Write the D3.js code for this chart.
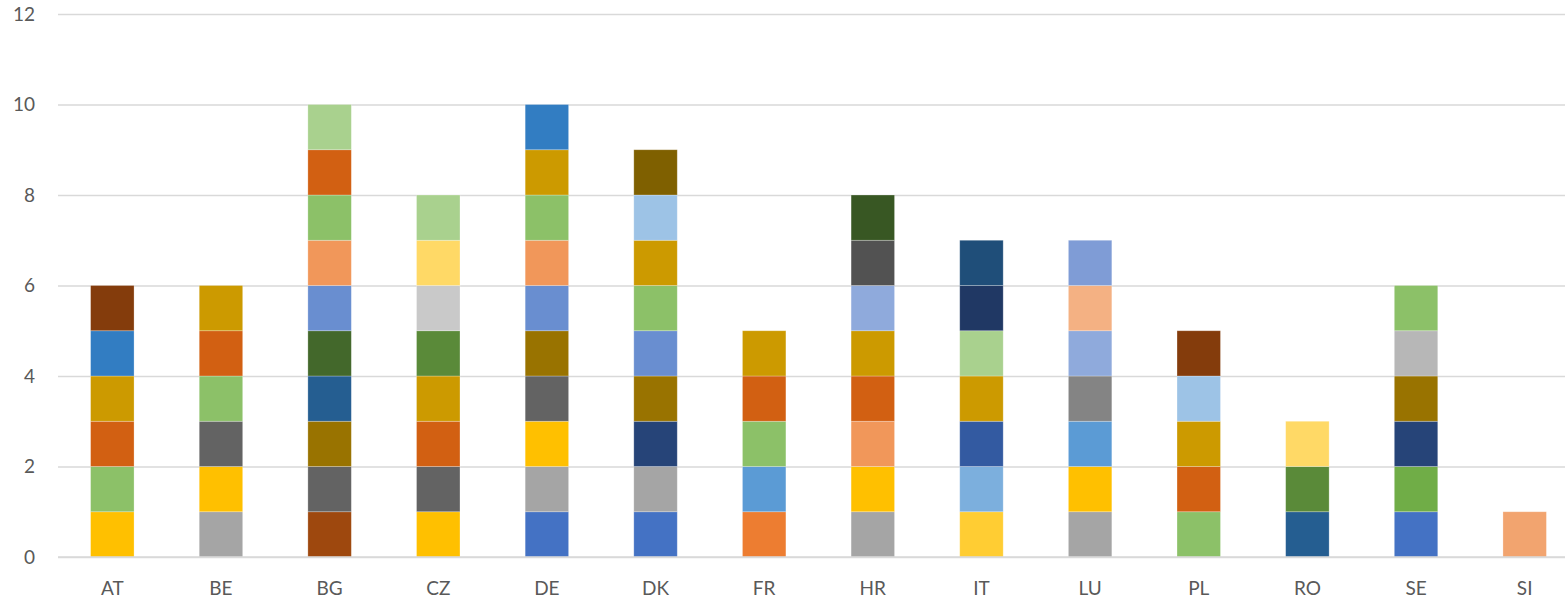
<!DOCTYPE html>
<html>
<head>
<meta charset="utf-8">
<script src="https://cdn.jsdelivr.net/npm/d3@7"></script>
<style>
  html, body { margin: 0; padding: 0; background: #fff; }
  svg { display: block; }
  text { font-family: Lato, "Liberation Sans", sans-serif; fill: #595959; }
</style>
</head>
<body>
<svg id="chart" width="1565" height="603"></svg>
<script>
// Countries along the x axis
const categories = ["AT", "BE", "BG", "CZ", "DE", "DK", "FR", "HR", "IT", "LU", "PL", "RO", "SE", "SI"];

// One colour per series, in stacking order (series 1 at the bottom)
const seriesColors = [
  "#4472C4", "#ED7D31", "#A5A5A5", "#FFC000", "#5B9BD5", "#70AD47",
  "#264478", "#9E480E", "#636363", "#997300", "#255E91", "#43682B",
  "#698ED0", "#F1975A", "#B7B7B7", "#FFCD33", "#7CAFDD", "#8CC168",
  "#335AA1", "#D26012", "#848484", "#CC9A00", "#327DC2", "#5A8A39",
  "#8FAADC", "#F4B183", "#C9C9C9", "#FFD966", "#9DC3E6", "#A9D18E",
  "#203864", "#843C0C", "#525252", "#7F6000", "#1F4E79", "#385723",
  "#7F9CD6", "#F2A46F"
];
const seriesNames = seriesColors.map((_, i) => "S" + (i + 1));

// Series (1-based) that each country counts once
const AT = [4, 18, 20, 22, 23, 32];
const BE = [3, 4, 9, 18, 20, 22];
const BG = [8, 9, 10, 11, 12, 13, 14, 18, 20, 30];
const CZ = [4, 9, 20, 22, 24, 27, 28, 30];
const DE = [1, 3, 4, 9, 10, 13, 14, 18, 22, 23];
const DK = [1, 3, 7, 10, 13, 18, 22, 29, 34];
const FR = [2, 5, 18, 20, 22];
const HR = [3, 4, 14, 20, 22, 25, 33, 36];
const IT = [16, 17, 19, 22, 30, 31, 35];
const LU = [3, 4, 5, 21, 25, 26, 37];
const PL = [18, 20, 22, 29, 32];
const RO = [11, 24, 28];
const SE = [1, 6, 7, 10, 15, 18];
const SI = [38];

const membership = [AT, BE, BG, CZ, DE, DK, FR, HR, IT, LU, PL, RO, SE, SI];

// y-axis ticks
const yTicks = [0, 2, 4, 6, 8, 10, 12];

// Build a row per country with a 0/1 value per series
const table = categories.map((c, i) => {
  const row = { country: c };
  seriesNames.forEach((s, j) => { row[s] = membership[i].includes(j + 1) ? 1 : 0; });
  return row;
});

const svg = d3.select("#chart");
const plot = { left: 58, right: 1579, top: 14, bottom: 557 };

const x = d3.scaleBand()
  .domain(categories)
  .range([plot.left, plot.right])
  .paddingInner(0.6)
  .paddingOuter(0.3);

const y = d3.scaleLinear()
  .domain([0, 12])
  .range([plot.bottom, plot.top]);

const color = d3.scaleOrdinal().domain(seriesNames).range(seriesColors);

// Gridlines and y labels
const yAxis = d3.axisLeft(y)
  .tickValues(yTicks)
  .tickSize(-(plot.right - plot.left))
  .tickPadding(23);

const gy = svg.append("g")
  .attr("transform", `translate(${plot.left},0)`)
  .call(yAxis);
gy.select(".domain").remove();
gy.selectAll(".tick line").attr("stroke", "#D9D9D9").attr("stroke-width", 1.3);
gy.selectAll(".tick text")
  .attr("font-size", 19)
  .attr("fill", "#595959")
  .style("font-family", "Lato, 'Liberation Sans', sans-serif");

// Stacked bars
const stack = d3.stack().keys(seriesNames);
const layers = stack(table);

svg.append("g")
  .selectAll("g")
  .data(layers)
  .join("g")
  .attr("fill", d => color(d.key))
  .selectAll("rect")
  .data(d => d.filter(p => p[1] - p[0] > 0))
  .join("rect")
  .attr("x", d => x(d.data.country))
  .attr("width", x.bandwidth())
  .attr("y", d => y(d[1]))
  .attr("height", d => y(d[0]) - y(d[1]))
  .attr("stroke", "rgba(255,255,255,0.35)")
  .attr("stroke-width", 0.75);

// Baseline gridline drawn over the bars' bottom edge
svg.append("line")
  .attr("x1", plot.left).attr("x2", plot.right)
  .attr("y1", y(0)).attr("y2", y(0))
  .attr("stroke", "#D9D9D9").attr("stroke-width", 1.3);

// x labels
const xAxis = d3.axisBottom(x).tickSize(0).tickPadding(25);
const gx = svg.append("g")
  .attr("transform", `translate(0,${plot.bottom})`)
  .call(xAxis);
gx.select(".domain").remove();
gx.selectAll(".tick text")
  .attr("font-size", 19)
  .attr("fill", "#595959")
  .style("font-family", "Lato, 'Liberation Sans', sans-serif");
</script>
</body>
</html>
